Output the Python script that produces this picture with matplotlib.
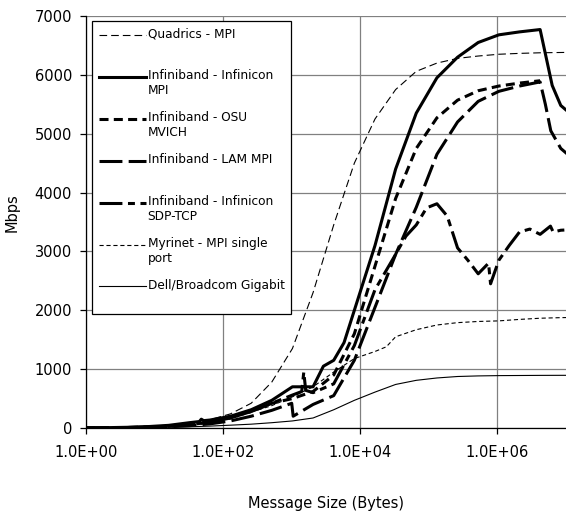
import matplotlib
matplotlib.use("Agg")
import matplotlib.pyplot as plt
from matplotlib.lines import Line2D
from matplotlib.legend_handler import HandlerLine2D
from matplotlib.ticker import NullLocator
import numpy as np

plt.rcParams['font.family'] = 'DejaVu Sans'
plt.rcParams['lines.scale_dashes'] = False

# Ancho de banda medido (Mbps) frente a tamaño de mensaje (bytes)
quadrics_size = [2**k for k in range(0, 25)]
quadrics_mbps = [3, 6, 12, 24, 45, 80, 140, 240, 420, 780, 1350, 2300, 3450,
                 4500, 5250, 5750, 6060, 6200, 6280, 6320, 6350, 6365, 6375,
                 6380, 6385]

ib_mpi_size = [1, 2, 4, 8, 16, 32, 45, 48, 52, 64, 128, 256, 512, 1024, 2048,
               2896, 4096, 5793, 8192, 16384, 32768, 65536, 131072, 262144,
               524288, 1048576, 2097152, 4194304, 6291456, 8388608, 16777216]
ib_mpi_mbps = [3, 6, 12, 24, 45, 90, 110, 150, 125, 135, 200, 310, 470, 700,
               700, 1050, 1150, 1450, 2000, 3100, 4400, 5350, 5950, 6300, 6550,
               6680, 6730, 6770, 5820, 5480, 5180]

osu_size = [2**k for k in range(0, 23)]
osu_mbps = [2, 4, 8, 16, 30, 55, 100, 170, 280, 420, 500, 620, 900, 1600, 2750,
            3900, 4750, 5270, 5570, 5730, 5810, 5860, 5900]

lam_size = [1, 2, 4, 8, 16, 32, 64, 128, 256, 512, 1000, 1050, 2048, 4096,
            8192, 16384, 32768, 65536, 131072, 262144, 524288, 1048576,
            2097152, 4194304, 5000000, 6000000, 8388608, 16777216]
lam_mbps = [1, 3, 6, 12, 22, 40, 70, 120, 200, 300, 420, 200, 400, 550, 1150,
            2050, 2950, 3750, 4650, 5200, 5550, 5720, 5810, 5880, 5500, 5050,
            4750, 4450]

sdp_size = [1, 2, 4, 8, 16, 32, 64, 128, 256, 512, 1024, 1400, 1500, 1600,
            2048, 4096, 8192, 16384, 32768, 46341, 65536, 92682, 131072,
            185364, 262144, 370727, 524288, 741455, 794000, 1048576, 1482910,
            2097152, 2965820, 4194304, 5931642, 6500000, 8388608, 11863283]
sdp_mbps = [2, 4, 8, 16, 30, 55, 100, 170, 280, 420, 560, 620, 950, 640, 600,
            750, 1400, 2350, 2950, 3260, 3450, 3740, 3810, 3600, 3060, 2850,
            2620, 2800, 2450, 2850, 3100, 3330, 3380, 3290, 3430, 3330, 3360,
            3370]

myri_size = [2**k for k in range(0, 15)] + [24000] + [2**k for k in range(15, 25)]
myri_mbps = [2, 5, 10, 20, 38, 70, 130, 190, 270, 380, 530, 700, 950, 1180,
             1300, 1380, 1550, 1670, 1750, 1790, 1810, 1820, 1845, 1865, 1875,
             1880]

dell_size = [2**k for k in range(0, 25)]
dell_mbps = [1, 2, 4, 7, 12, 20, 32, 48, 65, 90, 120, 170, 310, 470, 610, 740,
             810, 850, 875, 885, 890, 892, 894, 895, 895]

series = [
    (quadrics_size, quadrics_mbps, "Quadrics - MPI\n ", 0.8, (5.5, 2.9)),
    (ib_mpi_size, ib_mpi_mbps, "Infiniband - Infinicon\nMPI", 2.2, None),
    (osu_size, osu_mbps, "Infiniband - OSU\nMVICH", 2.2, (6.5, 3.8)),
    (lam_size, lam_mbps, "Infiniband - LAM MPI\n ", 2.2, (16.5, 4.5)),
    (sdp_size, sdp_mbps, "Infiniband - Infinicon\nSDP-TCP", 2.2, (16.5, 4, 5, 4)),
    (myri_size, myri_mbps, "Myrinet - MPI single\nport", 0.8, (3, 2)),
    (dell_size, dell_mbps, "Dell/Broadcom Gigabit\n ", 0.8, None),
]


class FirstLineHandler(HandlerLine2D):
    # pone la muestra de línea a la altura de la primera línea del texto
    def create_artists(self, legend, orig_handle, xdescent, ydescent, width,
                       height, fontsize, trans):
        artists = super().create_artists(legend, orig_handle, xdescent,
                                         ydescent, width, height, fontsize,
                                         trans)
        for a in artists:
            a.set_ydata(np.asarray(a.get_ydata(), dtype=float) + 0.6 * fontsize)
        return artists


fig = plt.figure(figsize=(5.66, 5.14), dpi=100)
ax = fig.add_axes([86 / 566, 1 - 428 / 514, 480 / 566, 412 / 514])

for size, mbps, label, lw, dash in series:
    line, = ax.plot(size, mbps, color='black', lw=lw, label=label)
    if dash is not None:
        line.set_dashes(dash)

ax.set_xscale('log')
ax.set_xlim(1, 1e7)
ax.set_ylim(0, 7000)
ax.set_xticks([1, 1e2, 1e4, 1e6])
ax.set_xticklabels(['1.0E+00', '1.0E+02', '1.0E+04', '1.0E+06'])
ax.xaxis.set_minor_locator(NullLocator())
ax.set_yticks(range(0, 7001, 1000))

ax.grid(True, color='#808080', lw=0.9)
ax.set_axisbelow(True)
ax.spines['top'].set_visible(False)
ax.spines['right'].set_visible(False)
ax.spines['left'].set_linewidth(0.9)
ax.spines['bottom'].set_linewidth(0.9)
ax.tick_params(axis='x', direction='out', length=4, width=0.9, pad=8,
               labelsize=10.5)
ax.tick_params(axis='y', direction='out', length=4, width=0.9, pad=6,
               labelsize=10.5)

ax.set_xlabel("Message Size (Bytes)", fontsize=10.5)
ax.set_ylabel("Mbps", fontsize=10.5)
ax.xaxis.set_label_coords(0.5, -0.165)
ax.yaxis.set_label_coords(-0.1375, 0.522)

leg = ax.legend(loc='upper left', bbox_to_anchor=(0.0125, 0.988),
                borderaxespad=0, fontsize=8.7, fancybox=False,
                edgecolor='black', framealpha=1, handlelength=3.9,
                handletextpad=0.15, labelspacing=1.15, borderpad=0.55,
                handler_map={Line2D: FirstLineHandler()})
leg.get_frame().set_linewidth(0.9)

fig.savefig("out.png", dpi=100)
